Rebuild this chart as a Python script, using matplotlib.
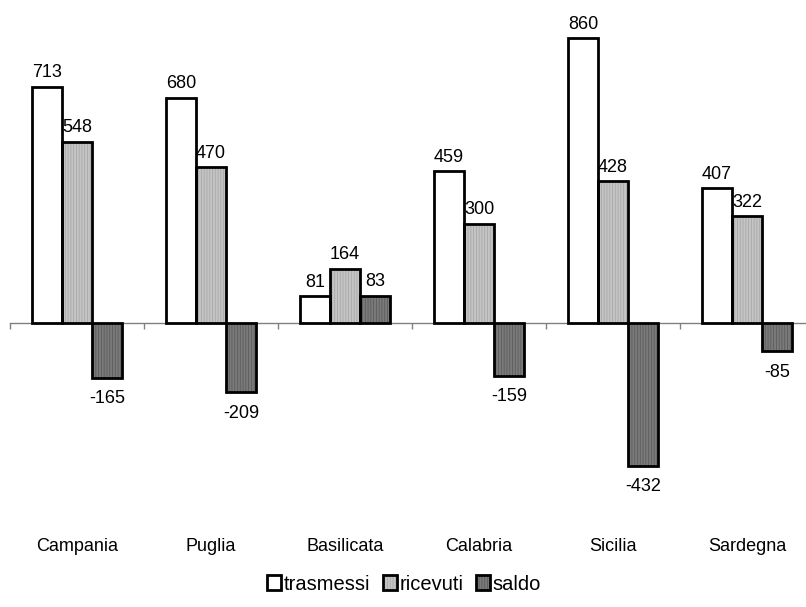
import matplotlib
matplotlib.use("Agg")
import matplotlib.pyplot as plt
import numpy as np

plt.rcParams['font.family'] = ['Liberation Sans', 'DejaVu Sans']
plt.rcParams['hatch.linewidth'] = 0.6

regioni = ["Campania", "Puglia", "Basilicata", "Calabria", "Sicilia", "Sardegna"]
trasmessi = [713, 680, 81, 459, 860, 407]
ricevuti = [548, 470, 164, 300, 428, 322]
saldo = [-165, -209, 83, -159, -432, -85]

serie = ["trasmessi", "ricevuti", "saldo"]
valori = [trasmessi, ricevuti, saldo]
fill_colors = ["white", "#c4c4c4", "#7a7a7a"]
hatch_colors = ["white", "#a8a8a8", "#5c5c5c"]
hatches = ["", "|" * 6, "|" * 6]

W, H, DPI = 806, 607, 100
fig = plt.figure(figsize=(W / DPI, H / DPI), dpi=DPI)

# axes placed in pixel terms: x from 10 to 814, y from 20 to 500 (top-down)
ax_left, ax_right = 10, 814
ax_top, ax_bot = 20, 500
ax = fig.add_axes([ax_left / W, 1 - ax_bot / H, (ax_right - ax_left) / W, (ax_bot - ax_top) / H])

px_per_unit = 0.331
zero_y = 323
ax.set_ylim(-(ax_bot - zero_y) / px_per_unit, (zero_y - ax_top) / px_per_unit)
ax.set_xlim(0, len(regioni))

x = np.arange(len(regioni)) + 0.5
bw = 30 / 134
offsets = [-bw, 0, bw]

handles = []
for vals, fc, hc, h, off, name in zip(valori, fill_colors, hatch_colors, hatches, offsets, serie):
    fill = ax.bar(x + off, vals, bw, facecolor=fc, edgecolor=hc, linewidth=0, hatch=h, zorder=2)
    edge = ax.bar(x + off, vals, bw, facecolor="none", edgecolor="black", linewidth=2.0, zorder=3)
    handles.append((fill, edge))
    for xi, v in zip(x + off, vals):
        if v >= 0:
            ax.annotate(f"{v}", (xi, v), xytext=(0, 4), textcoords="offset points",
                        ha="center", va="bottom", fontsize=13)
        else:
            ax.annotate(f"{v}", (xi, v), xytext=(0, -9), textcoords="offset points",
                        ha="center", va="top", fontsize=13)

# category axis along zero
for s in ["left", "right", "top"]:
    ax.spines[s].set_visible(False)
ax.spines["bottom"].set_position(("data", 0))
ax.spines["bottom"].set_color("#808080")
ax.spines["bottom"].set_linewidth(1.0)
ax.spines["bottom"].set_zorder(1)
ax.set_yticks([])
ax.set_xticks(np.arange(len(regioni) + 1))
ax.set_xticklabels([])
ax.tick_params(axis="x", which="major", direction="out", length=4, width=1, color="#808080")
ax.set_xticks(x, minor=True)
ax.set_xticklabels(regioni, minor=True, fontsize=13)
ax.tick_params(axis="x", which="minor", length=0, pad=(538 - zero_y) * 72 / DPI)

leg = fig.legend(handles, serie, loc="center", bbox_to_anchor=(404 / W, 1 - 584 / H),
                 ncol=3, frameon=False, fontsize=14.5, handlelength=0.7, handleheight=0.7,
                 handletextpad=0.15, columnspacing=0.6, borderaxespad=0)

fig.savefig("out.png", dpi=DPI)
